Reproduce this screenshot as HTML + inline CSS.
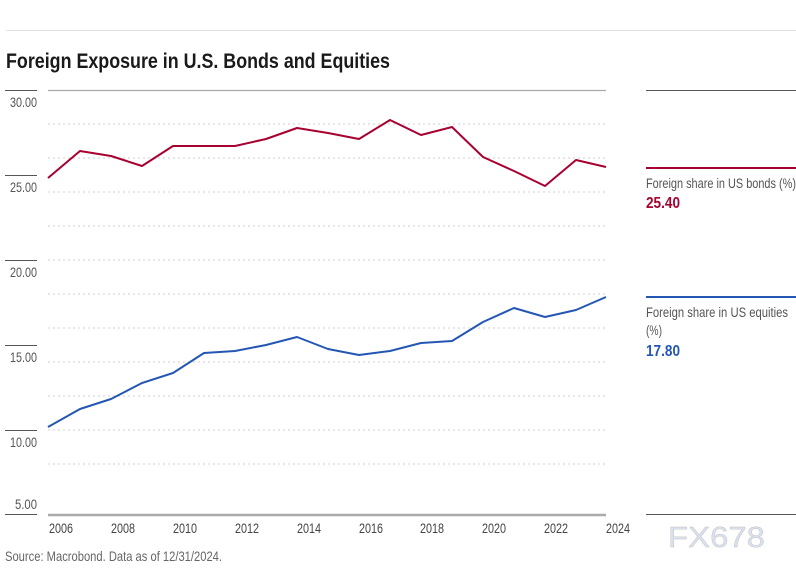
<!DOCTYPE html>
<html><head><meta charset="utf-8"><style>
body{margin:0;background:#fff;}
svg{display:block;font-family:"Liberation Sans",sans-serif;}
</style></head><body>
<svg width="796" height="572" viewBox="0 0 796 572" xmlns="http://www.w3.org/2000/svg">
<line x1="6" y1="30.5" x2="796" y2="30.5" stroke="#e3e3e3" stroke-width="1"/>
<text x="6" y="68" font-size="21" font-weight="bold" fill="#1a1a1a" textLength="384" lengthAdjust="spacingAndGlyphs">Foreign Exposure in U.S. Bonds and Equities</text>
<line x1="48" y1="90.5" x2="606" y2="90.5" stroke="#a8a8a8" stroke-width="1.2"/>
<g stroke="#d8d8d8" stroke-width="1.2" stroke-dasharray="2,3">
<line x1="48" y1="124" x2="606" y2="124"/>
<line x1="48" y1="158" x2="606" y2="158"/>
<line x1="48" y1="192" x2="606" y2="192"/>
<line x1="48" y1="226" x2="606" y2="226"/>
<line x1="48" y1="260" x2="606" y2="260"/>
<line x1="48" y1="294" x2="606" y2="294"/>
<line x1="48" y1="328" x2="606" y2="328"/>
<line x1="48" y1="362" x2="606" y2="362"/>
<line x1="48" y1="396" x2="606" y2="396"/>
<line x1="48" y1="430" x2="606" y2="430"/>
<line x1="48" y1="464" x2="606" y2="464"/>
</g>
<line x1="48" y1="515" x2="606" y2="515" stroke="#aaaaaa" stroke-width="2.5"/>
<g stroke="#555" stroke-width="1">
<line x1="5" y1="90.5" x2="37" y2="90.5"/>
<line x1="5" y1="175.5" x2="37" y2="175.5"/>
<line x1="5" y1="260.5" x2="37" y2="260.5"/>
<line x1="5" y1="345.5" x2="37" y2="345.5"/>
<line x1="5" y1="430.5" x2="37" y2="430.5"/>
<line x1="5" y1="514.5" x2="37" y2="514.5"/>
</g>
<g font-size="14" fill="#555">
<text x="10" y="107" textLength="27" lengthAdjust="spacingAndGlyphs">30.00</text>
<text x="10" y="192" textLength="27" lengthAdjust="spacingAndGlyphs">25.00</text>
<text x="10" y="277" textLength="27" lengthAdjust="spacingAndGlyphs">20.00</text>
<text x="10" y="362" textLength="27" lengthAdjust="spacingAndGlyphs">15.00</text>
<text x="10" y="447" textLength="27" lengthAdjust="spacingAndGlyphs">10.00</text>
<text x="15" y="509" textLength="22" lengthAdjust="spacingAndGlyphs">5.00</text>
</g>
<g font-size="14" fill="#444">
<text x="49" y="533" textLength="24" lengthAdjust="spacingAndGlyphs">2006</text>
<text x="111" y="533" textLength="24" lengthAdjust="spacingAndGlyphs">2008</text>
<text x="173" y="533" textLength="24" lengthAdjust="spacingAndGlyphs">2010</text>
<text x="235" y="533" textLength="24" lengthAdjust="spacingAndGlyphs">2012</text>
<text x="297" y="533" textLength="24" lengthAdjust="spacingAndGlyphs">2014</text>
<text x="359" y="533" textLength="24" lengthAdjust="spacingAndGlyphs">2016</text>
<text x="420" y="533" textLength="24" lengthAdjust="spacingAndGlyphs">2018</text>
<text x="482" y="533" textLength="24" lengthAdjust="spacingAndGlyphs">2020</text>
<text x="544" y="533" textLength="24" lengthAdjust="spacingAndGlyphs">2022</text>
<text x="606" y="533" textLength="24" lengthAdjust="spacingAndGlyphs">2024</text>
</g>
<polyline fill="none" stroke="#a8002f" stroke-width="2" stroke-linejoin="round" points="48,178 80,151 111,156 142,166 173,146 204,146 235,146 266,139 297,128 328,133 359,139 390,120 421,135 452,127 483,157 514,171 545,186 576,160 606,167"/>
<polyline fill="none" stroke="#2456b4" stroke-width="2" stroke-linejoin="round" points="48,427 80,409 111,399 142,383 173,373 204,353 235,351 266,345 297,337 328,349 359,355 390,351 421,343 452,341 483,322 514,308 545,317 576,310 606,297"/>
<line x1="646" y1="90.5" x2="796" y2="90.5" stroke="#555" stroke-width="1"/>
<line x1="646" y1="168" x2="796" y2="168" stroke="#a8002f" stroke-width="2"/>
<text x="646" y="188" font-size="14" fill="#555" textLength="150" lengthAdjust="spacingAndGlyphs">Foreign share in US bonds (%)</text>
<text x="646" y="208" font-size="16" font-weight="bold" fill="#a8002f" textLength="34" lengthAdjust="spacingAndGlyphs">25.40</text>
<line x1="646" y1="297" x2="796" y2="297" stroke="#2456b4" stroke-width="2"/>
<text x="646" y="317" font-size="14" fill="#555" textLength="142" lengthAdjust="spacingAndGlyphs">Foreign share in US equities</text>
<text x="646" y="335" font-size="14" fill="#555" textLength="16" lengthAdjust="spacingAndGlyphs">(%)</text>
<text x="646" y="356" font-size="16" font-weight="bold" fill="#2456b4" textLength="34" lengthAdjust="spacingAndGlyphs">17.80</text>
<line x1="646" y1="514.5" x2="796" y2="514.5" stroke="#555" stroke-width="1"/>
<text x="668" y="547" font-size="29" fill="#d6e2f2" stroke="#c9c0b8" stroke-width="0.4" textLength="97" lengthAdjust="spacingAndGlyphs">FX678</text>
<text x="5" y="561" font-size="14" fill="#666" textLength="217" lengthAdjust="spacingAndGlyphs">Source: Macrobond. Data as of 12/31/2024.</text>
</svg>
</body></html>
